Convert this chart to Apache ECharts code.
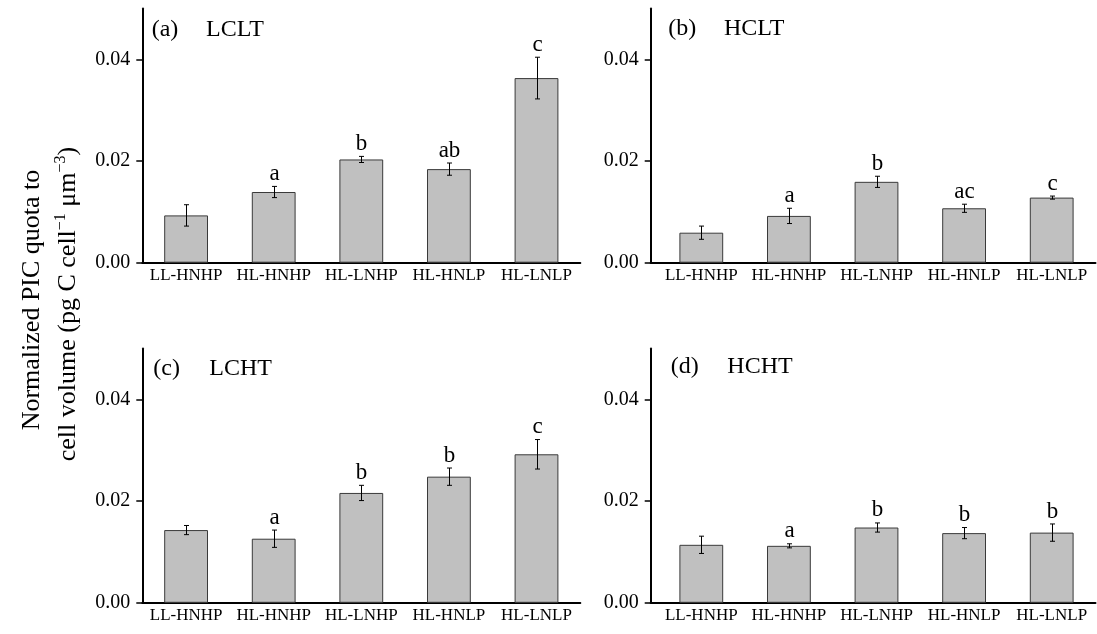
<!DOCTYPE html>
<html><head><meta charset="utf-8">
<script src="https://cdn.jsdelivr.net/npm/echarts@6/dist/echarts.min.js"></script>
<style>html,body{margin:0;padding:0;background:#fff}#c{width:1097px;height:634px}</style>
</head><body><div id="c"></div>
<script>
const categories = ['LL-HNHP', 'HL-HNHP', 'HL-LNHP', 'HL-HNLP', 'HL-LNLP'];
const panelTags = ['(a)', '(b)', '(c)', '(d)'];
const panelNames = ['LCLT', 'HCLT', 'LCHT', 'HCHT'];
const yTicks = [0, 0.02, 0.04];

const meanA = [0.0093, 0.0139, 0.0203, 0.0184, 0.0363];
const errA  = [0.0021, 0.0011, 0.0006, 0.0012, 0.0041];
const sigA  = ['', 'a', 'b', 'ab', 'c'];

const meanB = [0.0059, 0.0092, 0.0159, 0.0107, 0.0128];
const errB  = [0.0013, 0.0015, 0.0011, 0.0008, 0.0003];
const sigB  = ['', 'a', 'b', 'ac', 'c'];

const meanC = [0.0143, 0.0126, 0.0216, 0.0248, 0.0292];
const errC  = [0.0009, 0.0017, 0.0015, 0.0017, 0.0029];
const sigC  = ['', 'a', 'b', 'b', 'c'];

const meanD = [0.0114, 0.0112, 0.0148, 0.0137, 0.0138];
const errD  = [0.0017, 0.0004, 0.0009, 0.0011, 0.0017];
const sigD  = ['', 'a', 'b', 'b', 'b'];

const yTitle1 = 'Normalized PIC quota to';
const yTitle2 = 'cell volume (pg C cell{sup|\u22121} \u03bcm{sup|\u22123})';

const FONT = '"Liberation Serif", "Times New Roman", serif';
const H = 254.3, W = 438, YMAX = 0.05;

const panels = [
  {mean: meanA, err: errA, sig: sigA, axisLeft: 142.3, dataLeft: 142.3, top: 8.4,  tagX: 151.7, nameX: 206,   tagY: 30},
  {mean: meanB, err: errB, sig: sigB, axisLeft: 650.7, dataLeft: 657.5, top: 8.4,  tagX: 668.3, nameX: 724,   tagY: 29},
  {mean: meanC, err: errC, sig: sigC, axisLeft: 142.3, dataLeft: 142.3, top: 348.5, tagX: 153.3, nameX: 209.3, tagY: 369},
  {mean: meanD, err: errD, sig: sigD, axisLeft: 650.7, dataLeft: 657.5, top: 348.5, tagX: 670.7, nameX: 727.3, tagY: 367}
];

const grid = [], xAxis = [], yAxis = [], series = [], graphic = [];
panels.forEach((p, k) => {
  const gAxis = 2 * k, gData = 2 * k + 1;
  grid.push({left: p.axisLeft, top: p.top, width: p.dataLeft + W - p.axisLeft, height: H});
  grid.push({left: p.dataLeft, top: p.top, width: W, height: H});
  xAxis.push({gridIndex: gAxis, type: 'value', min: 0, max: 1, position: 'bottom',
    axisLine: {show: true, onZero: false, lineStyle: {color: '#000', width: 2}},
    axisTick: {show: false}, axisLabel: {show: false}, splitLine: {show: false}});
  yAxis.push({gridIndex: gAxis, type: 'value', min: 0, max: YMAX,
    axisLine: {show: true, lineStyle: {color: '#000', width: 2}},
    axisTick: {show: true, length: 6, customValues: yTicks, lineStyle: {color: '#000', width: 1.5}},
    axisLabel: {show: true, customValues: yTicks, margin: 12, fontFamily: FONT, fontSize: 20, color: '#000',
      formatter: v => v.toFixed(2)},
    splitLine: {show: false}});
  xAxis.push({gridIndex: gData, type: 'category', data: categories,
    axisLine: {show: false}, axisTick: {show: false},
    axisLabel: {margin: 4, fontFamily: FONT, fontSize: 17, color: '#000', interval: 0}});
  yAxis.push({gridIndex: gData, type: 'value', min: 0, max: YMAX, show: false});

  series.push({type: 'bar', xAxisIndex: 2 * k + 1, yAxisIndex: 2 * k + 1, data: p.mean,
    barWidth: '50%', itemStyle: {color: '#c0c0c0', borderColor: '#3a3a3a', borderWidth: 1}, z: 2});
  const sig = p.sig;
  series.push({type: 'custom', xAxisIndex: 2 * k + 1, yAxisIndex: 2 * k + 1, z: 3,
    data: p.mean.map((v, i) => [i, v, p.err[i]]),
    encode: {x: 0, y: 1},
    renderItem: (params, api) => {
      const i = api.value(0), v = api.value(1), e = api.value(2);
      const t = api.coord([i, v + e]), b = api.coord([i, v - e]);
      const x = Math.round(t[0]) + 0.5, cap = 2.5;
      const st = {stroke: '#000', lineWidth: 1};
      const ch = [
        {type: 'line', shape: {x1: x, y1: t[1], x2: x, y2: b[1]}, style: st},
        {type: 'line', shape: {x1: x - cap, y1: t[1], x2: x + cap, y2: t[1]}, style: st},
        {type: 'line', shape: {x1: x - cap, y1: b[1], x2: x + cap, y2: b[1]}, style: st}
      ];
      const s = sig[params.dataIndex];
      if (s) ch.push({type: 'text', style: {text: s, x: x, y: t[1] - 1, align: 'center', verticalAlign: 'bottom',
        font: '23px ' + FONT, fill: '#000'}});
      return {type: 'group', children: ch};
    }});

  graphic.push({type: 'text', x: p.tagX, y: p.tagY,
    style: {text: panelTags[k], font: '24px ' + FONT, fill: '#000', verticalAlign: 'middle'}});
  graphic.push({type: 'text', x: p.nameX, y: p.tagY,
    style: {text: panelNames[k], font: '24px ' + FONT, fill: '#000', verticalAlign: 'middle'}});
});

graphic.push({type: 'text', x: 32, y: 300, rotation: Math.PI / 2,
  style: {text: yTitle1, font: '26px ' + FONT, fill: '#000', align: 'center', verticalAlign: 'middle'}});
graphic.push({type: 'text', x: 68, y: 304, rotation: Math.PI / 2,
  style: {text: yTitle2, fontFamily: FONT, fontSize: 26, fill: '#000', align: 'center', verticalAlign: 'middle',
    lineHeight: 31,
    rich: {sup: {fontFamily: FONT, fontSize: 16, lineHeight: 20, verticalAlign: 'top', fill: '#000'}}}});

const chart = echarts.init(document.getElementById('c'), null, {renderer: 'canvas'});
chart.setOption({animation: false, backgroundColor: '#fff', grid, xAxis, yAxis, series, graphic});
</script>
</body></html>
